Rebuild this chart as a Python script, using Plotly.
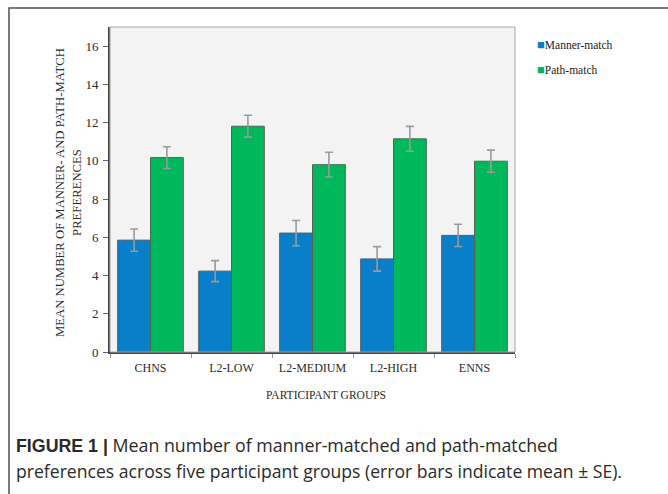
import plotly.graph_objects as go

# Participant groups and mean preference counts (with standard errors)
groups = ["CHNS", "L2-LOW", "L2-MEDIUM", "L2-HIGH", "ENNS"]
manner_mean = [5.85, 4.23, 6.22, 4.87, 6.10]
manner_se = [0.58, 0.55, 0.66, 0.64, 0.58]
path_mean = [10.17, 11.81, 9.80, 11.15, 9.98]
path_se = [0.57, 0.57, 0.65, 0.65, 0.58]
y_ticks = [0, 2, 4, 6, 8, 10, 12, 14, 16]
series_names = ["Manner-match", "Path-match"]
series_colors = ["#0a7fc9", "#00b85c"]

SERIF = "Liberation Serif, Times New Roman, serif"
SANS = "Open Sans, Liberation Sans, Arial, sans-serif"

W, H = 668, 494
L, R, T, B = 110, 515, 27, 352  # plot area edges in pixels


def px(x):
    return (x - L) / (R - L)


def py(y):
    return (B - y) / (B - T)


err_style = dict(type="data", color="#9a9a9a", thickness=1.6, width=4)

fig = go.Figure()
fig.add_trace(go.Bar(
    name=series_names[0], x=groups, y=manner_mean,
    error_y=dict(array=manner_se, **err_style),
    marker=dict(color=series_colors[0], line=dict(color="#4a5a66", width=1)),
))
fig.add_trace(go.Bar(
    name=series_names[1], x=groups, y=path_mean,
    error_y=dict(array=path_se, **err_style),
    marker=dict(color=series_colors[1], line=dict(color="#4f6656", width=1)),
))

shapes = [
    # outer figure frame
    dict(type="rect", xref="paper", yref="paper",
         x0=px(9), x1=px(720), y0=py(540), y1=py(8),
         line=dict(color="#4d4d4d", width=1.5), layer="below"),
    # plot area border (light)
    dict(type="rect", xref="paper", yref="paper",
         x0=0, x1=1, y0=0, y1=1,
         line=dict(color="#a8a8a8", width=1), layer="above"),
]

annotations = [
    dict(text="MEAN NUMBER OF MANNER- AND PATH-MATCH<br>PREFERENCES",
         xref="paper", yref="paper", x=px(68), y=py(193),
         textangle=-90, showarrow=False, xanchor="center", yanchor="middle",
         font=dict(family=SERIF, size=12.7, color="#2b2b2b")),
    dict(text="PARTICIPANT GROUPS",
         xref="paper", yref="paper", x=px(326), y=py(395),
         showarrow=False, xanchor="center", yanchor="middle",
         font=dict(family=SERIF, size=11.5, color="#2b2b2b")),
    dict(text="<span style='font-family:Liberation Sans, Arial, sans-serif'><b>FIGURE 1 |</b></span>"
              " Mean number of manner-matched and path-matched",
         xref="paper", yref="paper", x=px(14), y=py(445),
         showarrow=False, xanchor="left", yanchor="middle",
         font=dict(family=SANS, size=17.8, color="#2a2a2a")),
    dict(text="preferences across five participant groups (error bars indicate mean \u00b1 SE).",
         xref="paper", yref="paper", x=px(14), y=py(471),
         showarrow=False, xanchor="left", yanchor="middle",
         font=dict(family=SANS, size=17.6, color="#2a2a2a")),
]

# Legend entries: small colour key followed by series name
for i, (name, color) in enumerate(zip(series_names, series_colors)):
    annotations.append(dict(
        text=f"<span style='color:{color};font-size:13px'>\u25a0</span>{name}",
        xref="paper", yref="paper", x=px(535), y=py(45 + 24 * i),
        showarrow=False, xanchor="left", yanchor="middle",
        font=dict(family=SERIF, size=11.5, color="#222"),
    ))

fig.update_layout(
    width=W, height=H,
    margin=dict(l=L, r=W - R, t=T, b=H - B, pad=0),
    paper_bgcolor="white",
    plot_bgcolor="#f3f3f3",
    barmode="group",
    bargap=0.19,
    bargroupgap=0,
    showlegend=False,
    shapes=shapes,
    annotations=annotations,
    xaxis=dict(
        type="category", tickson="boundaries",
        ticks="outside", ticklen=4, tickcolor="#999",
        showline=True, linecolor="#444", linewidth=2,
        showgrid=False, ticklabelstandoff=4,
        tickfont=dict(family=SERIF, size=12, color="#2b2b2b"),
    ),
    yaxis=dict(
        range=[0, 17], tickvals=y_ticks,
        ticks="outside", ticklen=5, tickcolor="#666",
        showline=True, linecolor="#444", linewidth=2,
        showgrid=False, zeroline=False, ticklabelstandoff=2,
        tickfont=dict(family=SERIF, size=13, color="#2b2b2b"),
    ),
)

fig.write_html("out.html")
